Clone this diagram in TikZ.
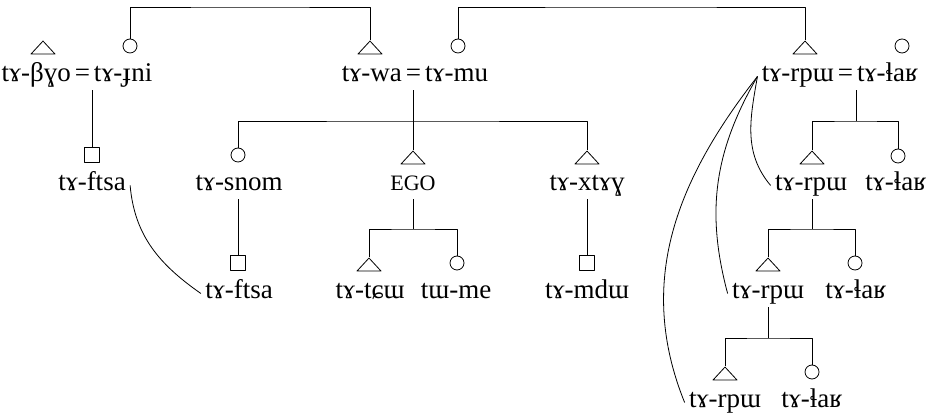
\documentclass[tikz,border=0pt]{standalone}
\usepackage{fontspec}
\setmainfont{Liberation Serif}
\usetikzlibrary{shapes.geometric}

\begin{document}
\begin{tikzpicture}[x=0.5pt, y=-0.5pt, line join=round, font=\fontsize{13.5}{16}\selectfont,
	lbl/.style={inner sep=2pt, text height=1.6ex, text depth=0.4ex, anchor=base},
	male/.style={draw, isosceles triangle, isosceles triangle stretches, shape border rotate=90, minimum width=12pt, minimum height=6.5pt, inner sep=0pt, anchor=apex},
	female/.style={draw, circle, minimum size=7pt, inner sep=0pt},
	child/.style={draw, rectangle, minimum size=7.5pt, inner sep=0pt}]
	\useasboundingbox (0,0) rectangle (935,415);
	% first generation
	\node[male] (m1) at (43,40) {};
	\node[female] (f1) at (130,46) {};
	\node[male] (m2) at (370,40) {};
	\node[female] (f2) at (458,46) {};
	\node[male] (m3) at (805,40) {};
	\node[female] (f3) at (902,46) {};
	\node[lbl] (c1) at (77,82) {tɤ-βɣo\kern2pt=\kern2pttɤ-ɟni};
	\node[lbl] (c2) at (415,82) {tɤ-wa\kern2pt=\kern2pttɤ-mu};
	\node[lbl] (c3) at (840,82) {tɤ-rpɯ\kern2pt=\kern2pttɤ-ɬaʁ};
	\coordinate (top1) at (250,7);
	\coordinate (top2) at (630,7);
	\draw (f1.north) |- (top1) -| (m2.apex);
	\draw (f2.north) |- (top2) -| (m3.apex);
	% second generation
	\node[child] (sq1) at (92,155) {};
	\node[female] (snomf) at (238,155) {};
	\node[male] (egom) at (413,150) {};
	\node[male] (xtrym) at (587,150) {};
	\node[male] (r1m) at (812,150) {};
	\node[female] (r1f) at (898,156) {};
	\node[lbl] (ftsa1) at (92,191) {tɤ-ftsa};
	\node[lbl] (snom) at (239,191) {tɤ-snom};
	\node[lbl, font=\fontsize{11}{13}\selectfont] (ego) at (413,191) {EGO};
	\node[lbl] (xtry) at (587,191) {tɤ-xtɤɣ};
	\node[lbl] (rpu1) at (811,191) {tɤ-rpɯ};
	\node[lbl] (lak1) at (896,191) {tɤ-ɬaʁ};
	\coordinate (bar2) at (413,121);
	\coordinate (bar3) at (856,121);
	\draw (sq1.north) -- (sq1.north |- c1.south);
	\draw (snomf.north) |- (bar2) -| (xtrym.apex);
	\draw (egom.apex) -- (egom.apex |- c2.south);
	\draw (r1m.apex) |- (bar3) -| (r1f.north);
	\draw (bar3) -- (bar3 |- c3.south);
	% third generation
	\node[child] (sq2) at (238,263) {};
	\node[male] (tcum) at (369,257) {};
	\node[female] (mef) at (457,263) {};
	\node[child] (sq3) at (587,263) {};
	\node[male] (r2m) at (768,257) {};
	\node[female] (r2f) at (855,263) {};
	\node[lbl] (ftsa2) at (239,299) {tɤ-ftsa};
	\node[lbl] (tcu) at (370,299) {tɤ-tɕɯ};
	\node[lbl] (me) at (456,299) {tɯ-me};
	\node[lbl] (mdu) at (587,299) {tɤ-mdɯ};
	\node[lbl] (rpu2) at (768,299) {tɤ-rpɯ};
	\node[lbl] (lak2) at (856,299) {tɤ-ɬaʁ};
	\coordinate (bar4) at (413,229);
	\coordinate (bar5) at (812,229);
	\draw (sq2.north) -- (sq2.north |- snom.south);
	\draw (tcum.apex) |- (bar4) -| (mef.north);
	\draw (bar4) -- (bar4 |- ego.south);
	\draw (sq3.north) -- (sq3.north |- xtry.south);
	\draw (r2m.apex) |- (bar5) -| (r2f.north);
	\draw (bar5) -- (bar5 |- rpu1.south);
	% fourth generation
	\node[male] (r3m) at (725,366) {};
	\node[female] (r3f) at (812,372) {};
	\node[lbl] (rpu3) at (725,408) {tɤ-rpɯ};
	\node[lbl] (lak3) at (812,408) {tɤ-ɬaʁ};
	\coordinate (bar6) at (768,338);
	\draw (r3m.apex) |- (bar6) -| (r3f.north);
	\draw (bar6) -- (bar6 |- rpu2.south);
	% same-name links
	\draw (ftsa1.east) to[out=-85, in=145] (ftsa2.west);
	\draw (c3.west) to[out=260, in=130] (rpu1.west);
	\draw (c3.west) to[out=240, in=105] (rpu2.west);
	\draw (c3.west) to[out=232, in=112] (rpu3.west);
\end{tikzpicture}
\end{document}
